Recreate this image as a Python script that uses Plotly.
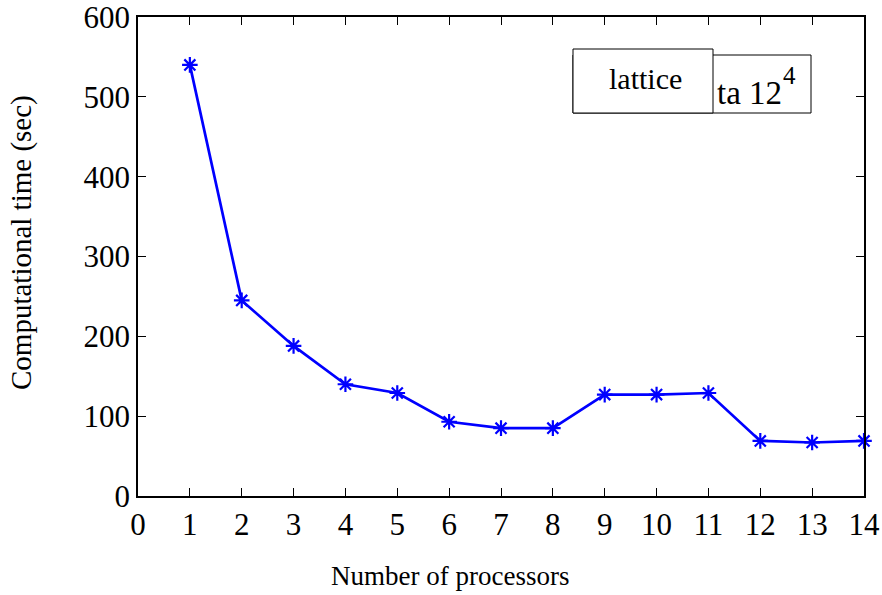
import plotly.graph_objects as go

processors = [1, 2, 3, 4, 5, 6, 7, 8, 9, 10, 11, 12, 13, 14]
time_sec = [540, 245, 188, 140, 129, 93, 85, 85, 127, 127, 129, 69, 67, 69]
x_ticks = list(range(0, 15))
y_ticks = [0, 100, 200, 300, 400, 500, 600]

W, H = 882, 595
L, R, T, B = 138, 18, 17, 99
pw, ph = W - L - R, H - T - B

def px(x):
    return (x - L) / pw

def py(y):
    return (H - B - y) / ph

font = "Liberation Serif, Times New Roman, serif"

fig = go.Figure()
fig.add_trace(go.Scatter(
    x=processors, y=time_sec, mode="lines+markers",
    line=dict(color="#0000ff", width=2.7),
    marker=dict(symbol="asterisk-open", size=13, color="#0000ff",
                line=dict(color="#0000ff", width=2.2)),
    showlegend=False, cliponaxis=False,
))

axis_common = dict(
    showgrid=False, zeroline=False, showline=True, linecolor="black", linewidth=1.5,
    mirror="ticks", ticks="inside", ticklen=8, tickcolor="black", tickwidth=1,
    tickfont=dict(family=font, size=31, color="black"), automargin=False,
    ticklabeloverflow="allow",
)
fig.update_xaxes(range=[0, 14], tickvals=x_ticks, **axis_common)
fig.update_yaxes(range=[0, 600], tickvals=y_ticks, **axis_common)

# legend-like boxes
fig.add_shape(type="rect", xref="paper", yref="paper",
              x0=px(573), x1=px(811), y0=py(113), y1=py(55),
              line=dict(color="black", width=1), fillcolor="white", layer="above")
fig.add_shape(type="rect", xref="paper", yref="paper",
              x0=px(573), x1=px(713), y0=py(113), y1=py(49),
              line=dict(color="black", width=1), fillcolor="white", layer="above")

fig.add_annotation(xref="paper", yref="paper", x=px(645), y=py(79),
                   text="lattice", showarrow=False, xanchor="center", yanchor="middle",
                   font=dict(family=font, size=30, color="black"))
fig.add_annotation(xref="paper", yref="paper", x=px(715), y=py(93),
                   text="ta 12", showarrow=False, xanchor="left", yanchor="middle",
                   font=dict(family=font, size=33, color="black"))
fig.add_annotation(xref="paper", yref="paper", x=px(781), y=py(75),
                   text="4", showarrow=False, xanchor="left", yanchor="middle",
                   font=dict(family=font, size=25, color="black"))

# axis titles
fig.add_annotation(xref="paper", yref="paper", x=px(450), y=py(576),
                   text="Number of processors", showarrow=False,
                   xanchor="center", yanchor="middle",
                   font=dict(family=font, size=27, color="black"))
fig.add_annotation(xref="paper", yref="paper", x=px(21), y=py(243),
                   text="Computational time (sec)", showarrow=False, textangle=-90,
                   xanchor="center", yanchor="middle",
                   font=dict(family=font, size=29, color="black"))

fig.update_layout(
    width=W, height=H,
    margin=dict(l=L, r=R, t=T, b=B, autoexpand=False),
    paper_bgcolor="white", plot_bgcolor="white",
)

fig.write_html("out.html")
